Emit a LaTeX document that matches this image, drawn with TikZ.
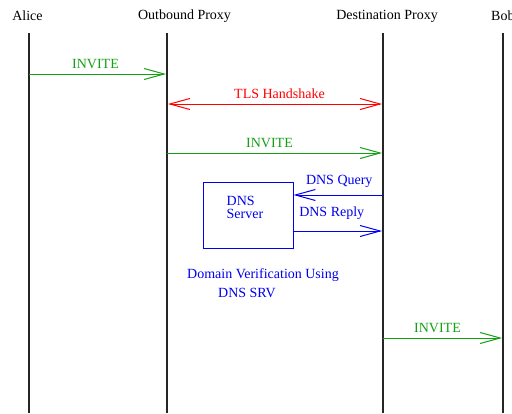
\documentclass[tikz,border=0pt]{standalone}
\usepackage{fontspec}
\setmainfont{Liberation Serif}
\usetikzlibrary{arrows.meta}
\definecolor{msggreen}{RGB}{20,160,20}
\definecolor{msgred}{RGB}{255,0,0}
\definecolor{msgblue}{RGB}{0,0,240}
\tikzset{
  lifeline/.style={draw=black!85, line width=1.3pt},
  actor/.style={font=\fontsize{14}{16}\selectfont, inner sep=0pt},
  lbl/.style={font=\fontsize{14}{16}\selectfont, inner sep=0pt},
  msg/.style={line width=1pt, -{Straight Barb[length=20pt,width=11pt]}},
  dmsg/.style={line width=1pt, {Straight Barb[length=20pt,width=11pt]}-{Straight Barb[length=20pt,width=11pt]}},
}
\begin{document}
\begin{tikzpicture}[x=1pt,y=-1pt]
\useasboundingbox (0,0) rectangle (512,413);

% participants
\node[actor] (alice) at (27.5,16) {Alice};
\node[actor] (outp) at (184.5,16) {Outbound Proxy};
\node[actor] (destp) at (387,16) {Destination Proxy};
\node[actor, anchor=west] (bob) at (491,16) {Bob};

% lifelines
\coordinate (aT) at (29,33);   \coordinate (aB) at (29,413);
\coordinate (oT) at (167,33);  \coordinate (oB) at (167,413);
\coordinate (dT) at (383,33);  \coordinate (dB) at (383,413);
\coordinate (bT) at (503,33);  \coordinate (bB) at (503,413);
\draw[lifeline] (aT) -- (aB);
\draw[lifeline] (oT) -- (oB);
\draw[lifeline] (dT) -- (dB);
\draw[lifeline] (bT) -- (bB);

% message points
\coordinate (a1) at (29,74);   \coordinate (o1) at (166,74);
\coordinate (o2) at (168,104); \coordinate (d2) at (382,104);
\coordinate (o3) at (167,153); \coordinate (d3) at (382,153);
\coordinate (d4) at (383,195);
\coordinate (d5) at (382,231);
\coordinate (d6) at (383,338); \coordinate (b6) at (502,338);

% DNS server box
\node[draw=msgblue, line width=1pt, minimum width=90pt, minimum height=66pt, inner sep=0pt] (dns) at (248,215) {};
\node[lbl, text=msgblue, anchor=north west, align=left] (dnstxt) at ([xshift=24pt,yshift=-15pt]dns.north west) {DNS\\[-3pt]Server};

% messages
\draw[msg, msggreen] (a1) -- node[lbl, above=5pt, text=msggreen, xshift=-2pt] (l1) {INVITE} (o1);
\draw[dmsg, msgred] (o2) -- node[lbl, above=5pt, text=msgred, xshift=4.5pt] (l2) {TLS Handshake} (d2);
\draw[msg, msggreen] (o3) -- node[lbl, above=5pt, text=msggreen, xshift=-5pt] (l3) {INVITE} (d3);
\draw[msg, msgblue] (d4) -- node[lbl, above=7pt, text=msgblue, xshift=1pt] (l4) {DNS Query} (dns.east |- d4);
\draw[msg, msgblue] (dns.east |- d5) -- node[lbl, above=11pt, text=msgblue, xshift=-6pt] (l5) {DNS Reply} (d5);
\draw[msg, msggreen] (d6) -- node[lbl, above=5pt, text=msggreen, xshift=-5pt] (l6) {INVITE} (b6);

% caption
\node[lbl, text=msgblue] (cap1) at (263,275) {Domain Verification Using};
\node[lbl, text=msgblue] (cap2) at (247,293) {DNS SRV};
\end{tikzpicture}
\end{document}
